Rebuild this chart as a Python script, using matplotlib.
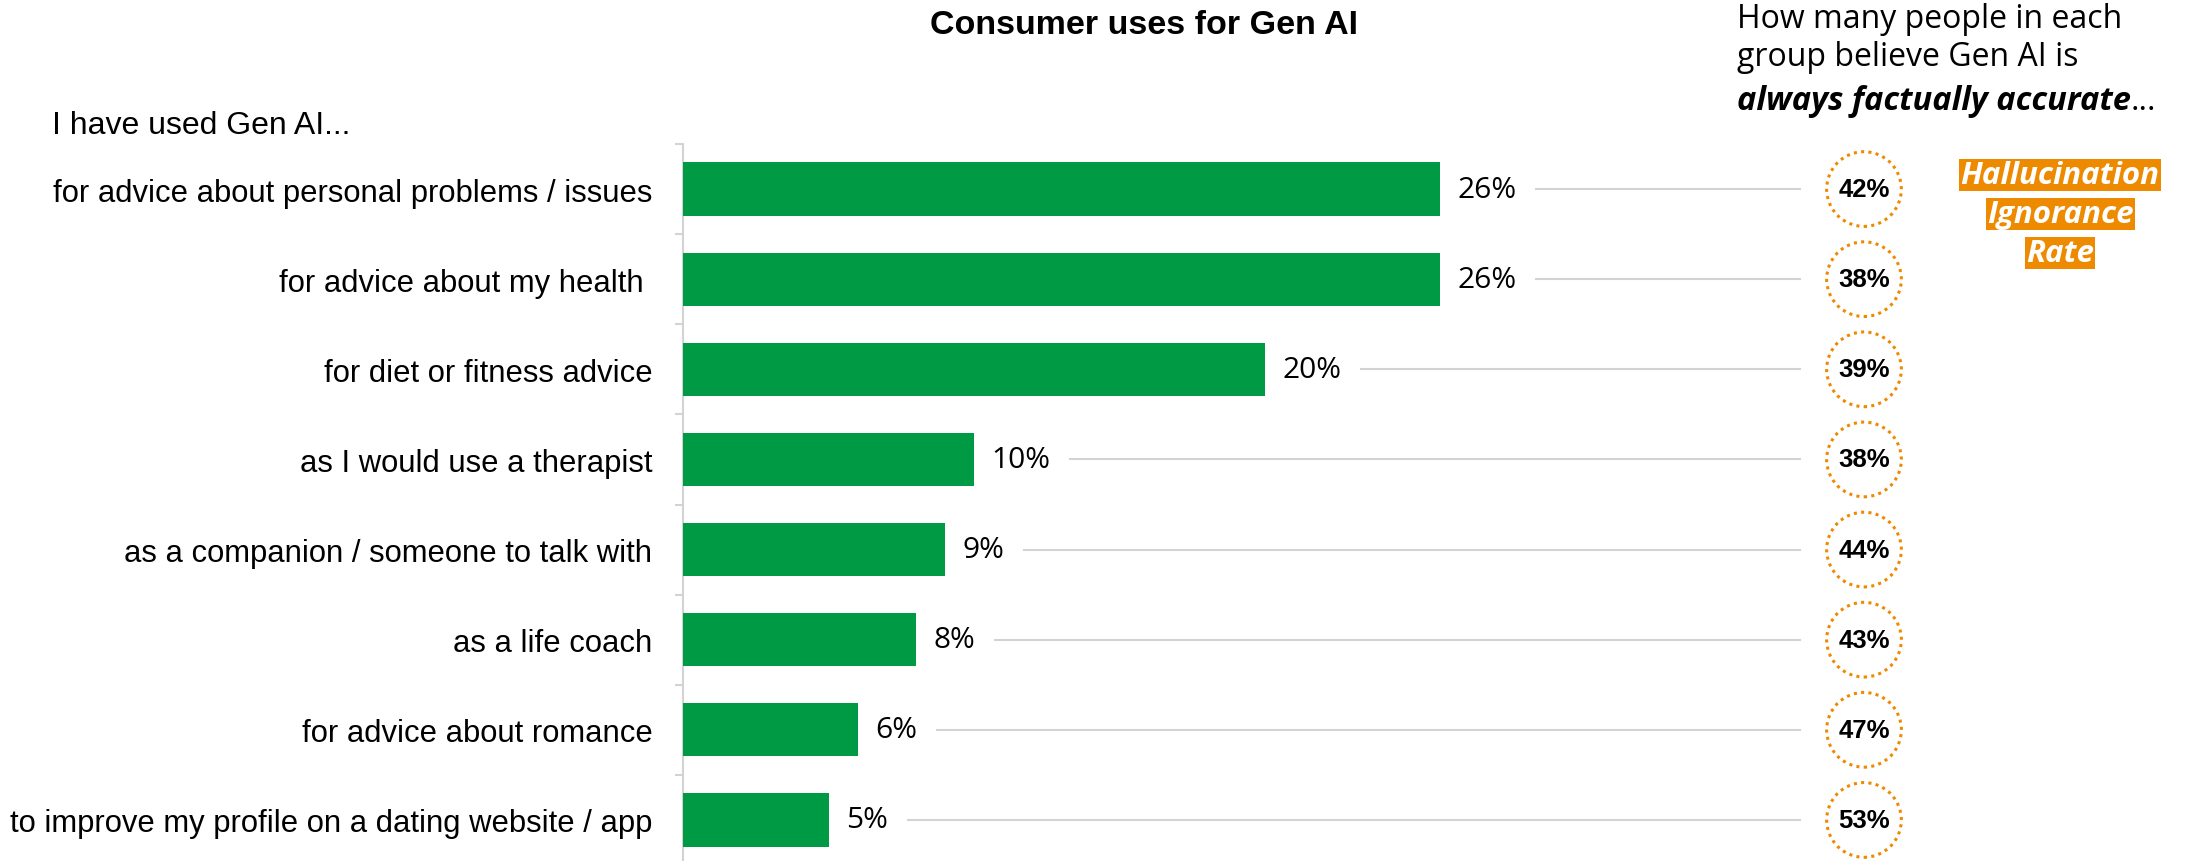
import matplotlib
matplotlib.use("Agg")
import matplotlib.pyplot as plt
from matplotlib.ticker import FixedLocator

# Share of consumers who have used Gen AI for each purpose (%)
uses = [
    "for advice about personal problems / issues",
    "for advice about my health ",
    "for diet or fitness advice",
    "as I would use a therapist",
    "as a companion / someone to talk with",
    "as a life coach",
    "for advice about romance",
    "to improve my profile on a dating website / app",
]
used_pct = [26, 26, 20, 10, 9, 8, 6, 5]
# Share of each group believing Gen AI is always factually accurate (%)
accurate_pct = [42, 38, 39, 38, 44, 43, 47, 53]

GREEN = "#009A44"
ORANGE = "#EE8A00"
LINE_GREY = "#D3D3D3"
FONT = ["Liberation Sans", "DejaVu Sans"]
FONT2 = ["Open Sans", "DejaVu Sans"]

W, H = 2193, 862
fig = plt.figure(figsize=(W / 100, H / 100), dpi=100)

ax_left = 683 / W
px_per_pct = 29.1
xmax = 48
ax = fig.add_axes([ax_left, -4 / H, xmax * px_per_pct / W, 1 - 141 / H])

y = list(range(len(uses)))
ax.barh(y, used_pct, height=0.59, color=GREEN, zorder=3)
ax.set_xlim(0, xmax)
ax.set_ylim(len(uses) - 0.5, -0.5)

for s in ["top", "right", "bottom"]:
    ax.spines[s].set_visible(False)
ax.spines["left"].set_color(LINE_GREY)
ax.spines["left"].set_linewidth(1.5)
ax.set_xticks([])
ax.set_yticks(y)
ax.set_yticklabels(uses, fontsize=22.3, family=FONT)
ax.tick_params(axis="y", which="major", length=0, pad=22)
ax.yaxis.set_minor_locator(FixedLocator([i - 0.5 for i in range(len(uses) + 1)]))
ax.tick_params(axis="y", which="minor", length=6, width=1.5, color=LINE_GREY)

circle_x = (1864 - 683) / px_per_pct
line_end = (1800 - 683) / px_per_pct

fig.canvas.draw()
renderer = fig.canvas.get_renderer()
inv = ax.transData.inverted()
for i, v in enumerate(used_pct):
    t = ax.text(v + 0.6, i, f"{v}%", va="center", ha="left",
                fontsize=21.5, family=FONT2)
    bb = t.get_window_extent(renderer)
    x_start = inv.transform((bb.x1 + 20, 0))[0]
    ax.plot([x_start, line_end], [i, i], color=LINE_GREY, lw=1.5, zorder=1)

ax.scatter([circle_x] * len(accurate_pct), y, s=2900, facecolors="none",
           edgecolors=ORANGE, linewidths=2.2, linestyles=(0, (1, 1.4)),
           clip_on=False, zorder=4)
for i, v in enumerate(accurate_pct):
    ax.text(circle_x, i, f"{v}%", ha="center", va="center", fontsize=18.5,
            fontweight="bold", family=FONT, clip_on=False)

# headings
fig.text(1144 / W, 1 - 25 / H, "Consumer uses for Gen AI", ha="center",
         va="center", fontsize=24.5, fontweight="bold", family=FONT)
fig.text(52 / W, 1 - 126 / H, "I have used Gen AI...", ha="left",
         va="center", fontsize=23, family=FONT)

hx = 1737 / W
fig.text(hx, 1 - 20 / H, "How many people in each", ha="left", va="center",
         fontsize=23, family=FONT2)
fig.text(hx, 1 - 58 / H, "group believe Gen AI is", ha="left", va="center",
         fontsize=23, family=FONT2)
t1 = fig.text(hx, 1 - 101 / H, "always factually accurate", ha="left",
              va="center", fontsize=23.5, fontweight="bold", style="italic",
              family=FONT2)
bb = t1.get_window_extent(renderer)
fig.text(bb.x1 / W, 1 - 101 / H, "...", ha="left", va="center",
         fontsize=23.5, family=FONT2)

for word, yc in [("Hallucination", 176), ("Ignorance", 215), ("Rate", 254)]:
    fig.text(2060 / W, 1 - yc / H, word, ha="center", va="center",
             fontsize=22.5, fontweight="bold", style="italic", color="white",
             family=FONT2,
             bbox=dict(boxstyle="square,pad=0.04", fc=ORANGE, ec="none"))

fig.savefig("out.png", dpi=100, facecolor="white")
